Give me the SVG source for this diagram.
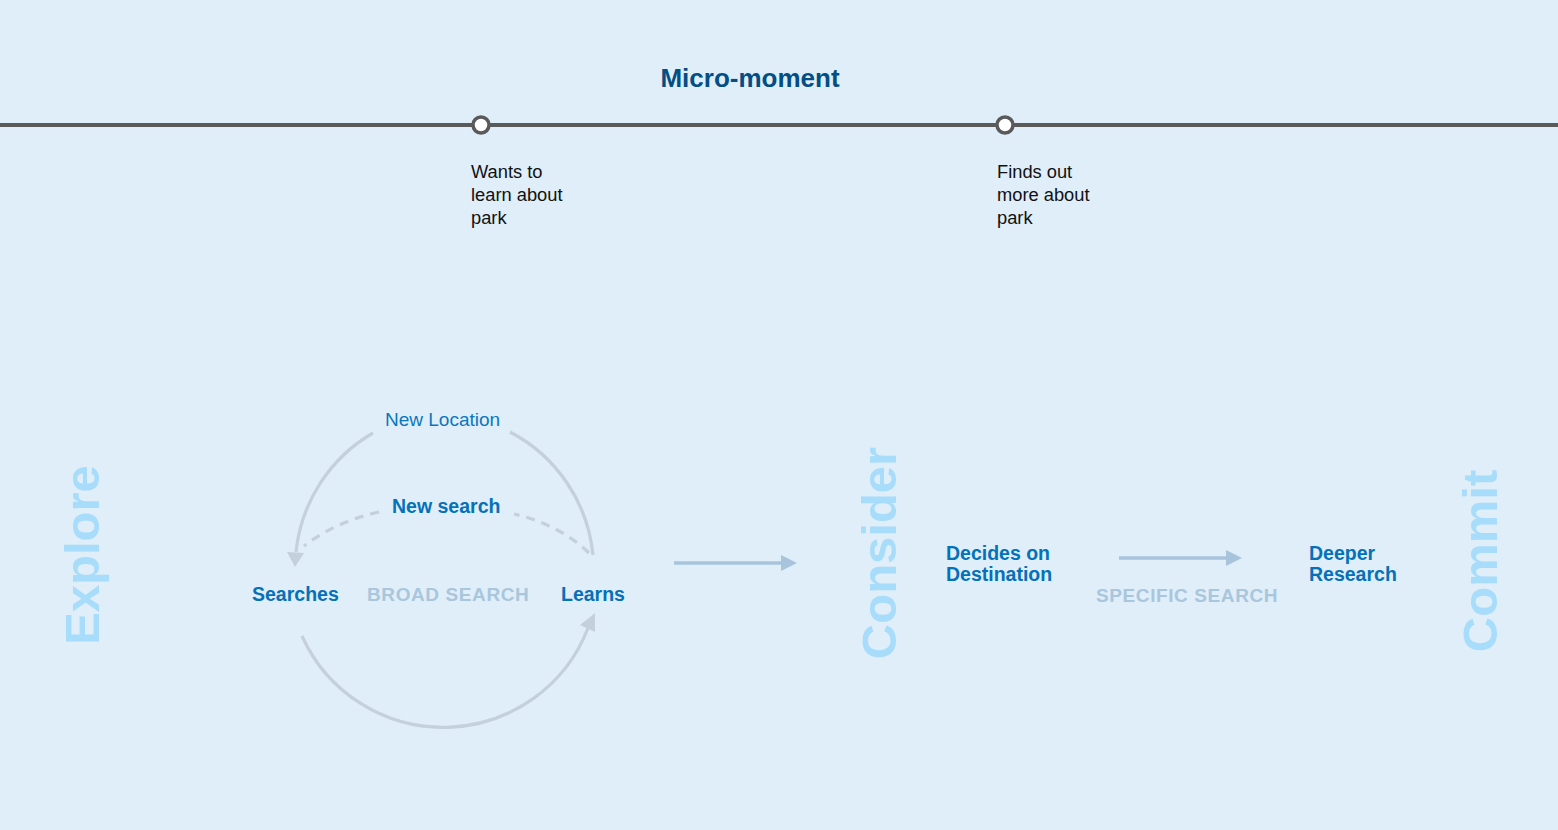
<svg xmlns="http://www.w3.org/2000/svg" width="1558" height="830" viewBox="0 0 1558 830">
<style>
.bg{fill:#dfeef9}
.stage{font-family:"Liberation Sans",Arial,sans-serif;font-weight:bold;font-size:49px;fill:#a8dcfb;text-anchor:middle}
.lbl{font-family:"Liberation Sans",Arial,sans-serif;font-weight:bold;font-size:19.5px;fill:#0471b9}
.lblr{font-family:"Liberation Sans",Arial,sans-serif;font-size:19px;fill:#0a77c0}
.cap{font-family:"Liberation Sans",Arial,sans-serif;font-weight:bold;font-size:19px;fill:#a9c6dc;letter-spacing:0.6px}
.note{font-family:"Liberation Sans",Arial,sans-serif;font-size:18.3px;fill:#111}
.title{font-family:"Liberation Sans",Arial,sans-serif;font-weight:bold;font-size:26px;fill:#034e85;text-anchor:middle}
.arc{fill:none;stroke:#c4d0db;stroke-width:3.2}
.dash{fill:none;stroke:#c4d0db;stroke-width:3.2;stroke-dasharray:9 7}
.head{fill:#c4d0db}
.flow{stroke:#a7c4dc;stroke-width:3.5;fill:none}
.flowhead{fill:#a7c4dc}
</style>
<rect class="bg" x="0" y="0" width="1558" height="830"/>

<g id="timeline">
  <text class="title" x="750" y="87">Micro-moment</text>
  <line x1="0" y1="125" x2="1558" y2="125" stroke="#5a5a5a" stroke-width="4"/>
  <circle cx="481" cy="125" r="8" fill="#fff" stroke="#5a5a5a" stroke-width="3.5"/>
  <circle cx="1005" cy="125" r="8" fill="#fff" stroke="#5a5a5a" stroke-width="3.5"/>
</g>
<g id="moment1">
  <text class="note" x="471" y="178">Wants to</text>
  <text class="note" x="471" y="201">learn about</text>
  <text class="note" x="471" y="224">park</text>
</g>
<g id="moment2">
  <text class="note" x="997" y="178">Finds out</text>
  <text class="note" x="997" y="201">more about</text>
  <text class="note" x="997" y="224">park</text>
</g>

<g id="explore"><text class="stage" transform="translate(99,555) rotate(-90)">Explore</text></g>
<g id="consider"><text class="stage" transform="translate(896,553) rotate(-90)">Consider</text></g>
<g id="commit"><text class="stage" transform="translate(1497,561) rotate(-90)">Commit</text></g>

<g id="searches"><text class="lbl" x="252" y="601">Searches</text></g>
<g id="learns"><text class="lbl" x="561" y="601">Learns</text></g>
<g id="broad-search"><text class="cap" x="367" y="601">BROAD SEARCH</text></g>
<g id="new-location"><text class="lblr" x="385" y="426">New Location</text></g>
<g id="new-search"><text class="lbl" x="392" y="513">New search</text></g>
<g id="decides"><text class="lbl" x="946" y="560">Decides on</text><text class="lbl" x="946" y="581">Destination</text></g>
<g id="specific-search"><text class="cap" x="1096" y="602">SPECIFIC SEARCH</text></g>
<g id="deeper"><text class="lbl" x="1309" y="560">Deeper</text><text class="lbl" x="1309" y="581">Research</text></g>

<g id="connectors">
  <path class="arc" d="M 373 433 A 156 156 0 0 0 296 552"/>
  <path class="arc" d="M 510 432 A 156 156 0 0 1 593 555"/>
  <path class="dash" d="M 379 512 Q 335 522 304 546"/>
  <path class="dash" d="M 589 553 Q 560 525 514 514"/>
  <polygon class="head" points="287,552 304,553 295,567"/>
  <path class="arc" d="M 302 636 A 155 155 0 0 0 588 628"/>
  <polygon class="head" points="580,625 595,632 595,613"/>
  <line class="flow" x1="674" y1="563" x2="782" y2="563"/>
  <polygon class="flowhead" points="781,555 797,563 781,571"/>
  <line class="flow" x1="1119" y1="558" x2="1227" y2="558"/>
  <polygon class="flowhead" points="1226,550 1242,558 1226,566"/>
</g>
</svg>
